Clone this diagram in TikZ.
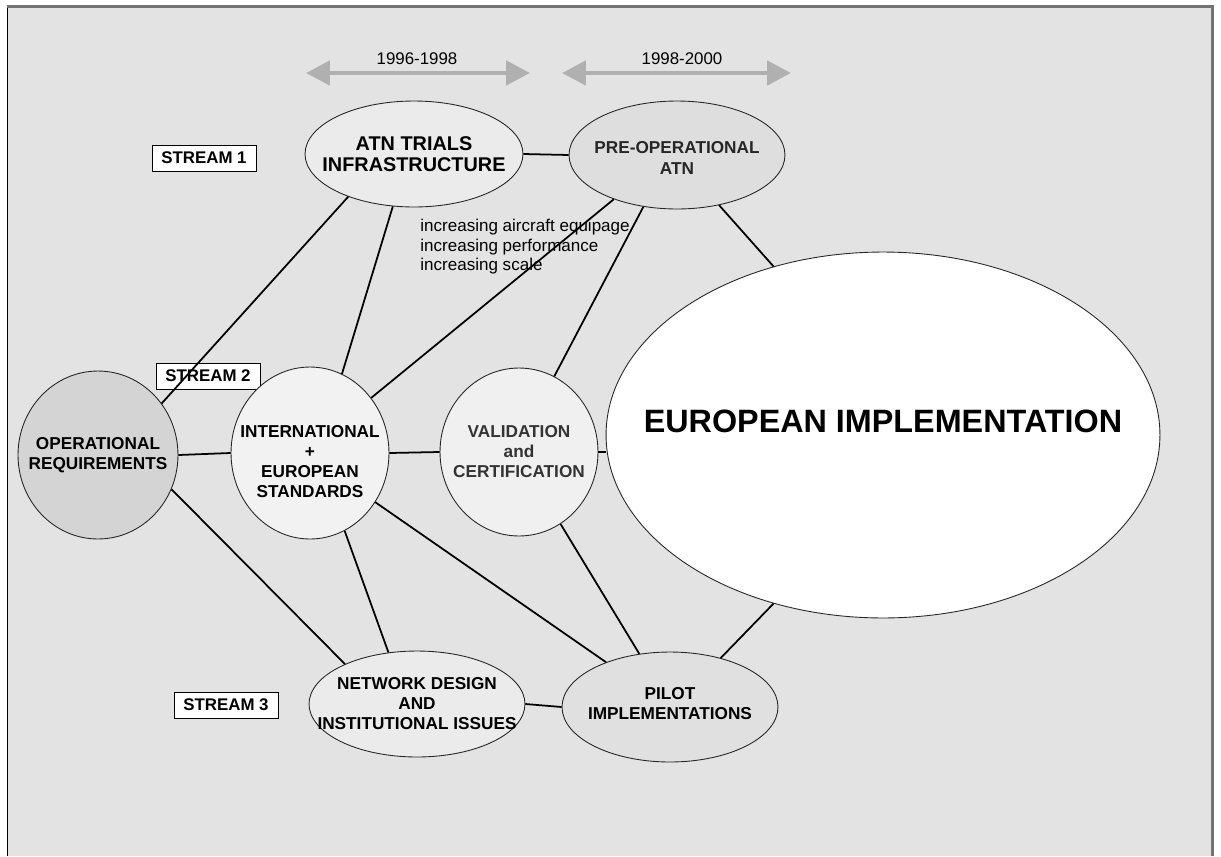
\documentclass[tikz,border=0pt]{standalone}
\usepackage{fontspec}
\setmainfont{Liberation Sans}
\usetikzlibrary{positioning,shapes.geometric,arrows.meta,shadows}
\definecolor{panel}{RGB}{227,227,227}
\definecolor{period}{RGB}{176,176,176}
\tikzset{
  bub/.style 2 args={ellipse,draw=black!85,line width=0.5pt,inner sep=0pt,minimum width=#1,minimum height=#2},
  lbl/.style={font=\bfseries\fontsize{9.8}{11.4}\selectfont,align=center,inner sep=0pt},
  streambox/.style={draw,fill=white,line width=0.5pt,minimum width=2.08cm,minimum height=0.52cm,inner sep=0pt,
    font=\bfseries\fontsize{9.6}{11}\selectfont,drop shadow={shadow xshift=0.7pt,shadow yshift=-0.7pt,opacity=0.6}},
  link/.style={line width=1pt},
  span/.style={draw=period,line width=2.8pt,{Triangle[length=13.6pt,width=13.6pt]}-{Triangle[length=13.6pt,width=13.6pt]}},
  yr/.style={font=\fontsize{9.6}{11}\selectfont,inner sep=0pt}
}
\begin{document}
\begin{tikzpicture}[x=0.02cm,y=-0.02cm]
  \useasboundingbox (0,0) rectangle (1221,856);
  \fill[panel] (7,6) rectangle (1213,856);
  \draw[black,line width=0.8pt] (7.5,856) -- (7.5,6);
  \draw[black!55,line width=1.4pt] (7,6.6) -- (1212.4,6.6) -- (1212.4,856);

  \coordinate (A1) at (306,73);
  \coordinate (B1) at (530,73);
  \coordinate (A2) at (562,73);
  \coordinate (B2) at (791,73);
  \draw[span] (A1) -- (B1);
  \draw[span] (A2) -- (B2);
  \node[yr] (Y1) at (417,59) {1996-1998};
  \node[yr] (Y2) at (682,59) {1998-2000};

  \node[streambox] (S1) at (204,158) {STREAM 1};
  \node[streambox] (S2) at (208,376) {STREAM 2};
  \node[streambox] (S3) at (226,705) {STREAM 3};

  \node[align=left,anchor=west,inner sep=0pt,font=\fontsize{9.7}{11.1}\selectfont] (INC) at (420,247)
    {increasing aircraft equipage\\increasing performance\\increasing scale};

  \node[bub={4.36cm}{2.12cm},fill=black!8,label={[lbl,font=\bfseries\fontsize{11.3}{12}\selectfont]center:ATN TRIALS\\INFRASTRUCTURE}] (ATN) at (414,154) {};
  \node[bub={4.32cm}{2.16cm},fill=black!13,label={[lbl,text=black!85,yshift=-1.7pt]center:PRE-OPERATIONAL\\ATN}] (PRE) at (677,155) {};
  \node[bub={3.2cm}{3.36cm},fill=black!17,label={[lbl]center:OPERATIONAL\\REQUIREMENTS}] (OR) at (98,455) {};
  \node[bub={3.16cm}{3.44cm},fill=black!5,label={[lbl,yshift=-5pt]center:INTERNATIONAL\\+\\EUROPEAN\\STANDARDS}] (INT) at (310,453) {};
  \node[bub={3.16cm}{3.36cm},fill=black!6,label={[lbl,text=black!80]center:VALIDATION\\and\\CERTIFICATION}] (VAL) at (519,452) {};
  \node[bub={11.08cm}{7.32cm},fill=white,label={[lbl,font=\bfseries\fontsize{18.4}{20}\selectfont,yshift=8pt]center:EUROPEAN IMPLEMENTATION}] (EI) at (883,435) {};
  \node[bub={4.32cm}{2.12cm},fill=black!8,label={[lbl]center:NETWORK DESIGN\\AND\\INSTITUTIONAL ISSUES}] (NET) at (417,704) {};
  \node[bub={4.32cm}{2.2cm},fill=black!12,label={[lbl,yshift=2pt]center:PILOT\\IMPLEMENTATIONS}] (PIL) at (670,707) {};

  \draw[link] (ATN.east) -- (PRE.west);
  \draw[link] (ATN.213) -- (OR.39);
  \draw[link] (ATN.248) -- (INT.68);
  \draw[link] (PRE.215) -- (INT.42);
  \draw[link] (PRE.237) -- (VAL.65);
  \draw[link] (PRE.310) -- (EI.123);
  \draw[link] (OR.east) -- (INT.west);
  \draw[link] (INT.east) -- (VAL.west);
  \draw[link] (VAL.east) -- (VAL.east -| EI.west);
  \draw[link] (OR.-25) -- (NET.151);
  \draw[link] (INT.-66) -- (NET.119);
  \draw[link] (INT.-37) -- (PIL.145);
  \draw[link] (VAL.-60) -- (PIL.120);
  \draw[link] (EI.237) -- (PIL.44);
  \draw[link] (NET.east) -- (PIL.west);
\end{tikzpicture}
\end{document}
